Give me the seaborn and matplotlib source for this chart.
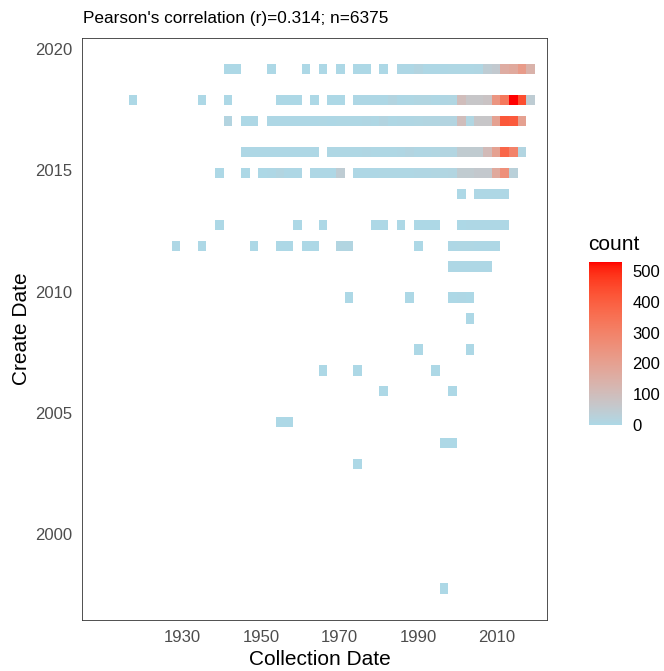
import numpy as np
import matplotlib
matplotlib.use("Agg")
import matplotlib.pyplot as plt
from matplotlib.colors import ListedColormap, to_rgb
import seaborn as sns

# Create-date rows (year) and, for each, the collection-date values and record counts
create_rows = [2019.18, 2017.89, 2017.04, 2015.75, 2014.90, 2014.04, 2012.75,
               2011.90, 2011.04, 2009.76, 2008.90, 2007.62, 2006.76, 2005.90,
               2004.62, 2003.76, 2002.91, 1997.77]

collection_by_row = [
    [1941.6, 1943.8, 1952.6, 1961.4, 1965.8, 1970.2, 1974.6, 1976.8, 1981.1,
     1985.5, 1987.7, 1989.9, 1992.1, 1994.3, 1996.5, 1998.7, 2000.9, 2003.1,
     2005.3, 2007.5, 2009.7, 2011.9, 2014.1, 2016.3, 2018.5],
    [1917.4, 1935.0, 1941.6, 1954.8, 1957.0, 1959.2, 1963.6, 1968.0, 1970.2,
     1974.6, 1976.8, 1978.9, 1981.1, 1983.3, 1985.5, 1987.7, 1989.9, 1992.1,
     1994.3, 1996.5, 1998.7, 2000.9, 2003.1, 2005.3, 2007.5, 2009.7, 2011.9,
     2014.1, 2016.3, 2018.5],
    [1941.6, 1946.0, 1948.2, 1952.6, 1954.8, 1957.0, 1959.2, 1961.4, 1963.6,
     1965.8, 1968.0, 1970.2, 1972.4, 1974.6, 1976.8, 1978.9, 1981.1, 1983.3,
     1985.5, 1987.7, 1989.9, 1992.1, 1994.3, 1996.5, 1998.7, 2000.9, 2003.1,
     2005.3, 2007.5, 2009.7, 2011.9, 2014.1, 2016.3],
    [1946.0, 1948.2, 1950.4, 1952.6, 1954.8, 1957.0, 1959.2, 1961.4, 1963.6,
     1968.0, 1970.2, 1972.4, 1974.6, 1976.8, 1978.9, 1981.1, 1983.3, 1985.5,
     1987.7, 1989.9, 1992.1, 1994.3, 1996.5, 1998.7, 2000.9, 2003.1, 2005.3,
     2007.5, 2009.7, 2011.9, 2014.1, 2016.3],
    [1939.4, 1946.0, 1950.4, 1952.6, 1954.8, 1957.0, 1959.2, 1963.6, 1965.8,
     1968.0, 1970.2, 1974.6, 1976.8, 1978.9, 1981.1, 1983.3, 1985.5, 1987.7,
     1989.9, 1992.1, 1994.3, 1996.5, 1998.7, 2000.9, 2003.1, 2005.3, 2007.5,
     2009.7, 2011.9, 2014.1],
    [2000.9, 2005.3, 2007.5, 2009.7, 2011.9],
    [1939.4, 1959.2, 1965.8, 1978.9, 1981.1, 1985.5, 1989.9, 1992.1, 1994.3,
     2000.9, 2003.1, 2005.3, 2007.5, 2009.7, 2011.9],
    [1928.4, 1935.0, 1948.2, 1954.8, 1957.0, 1961.4, 1963.6, 1970.2, 1972.4,
     1989.9, 1998.7, 2000.9, 2003.1, 2005.3, 2007.5, 2009.7],
    [1998.7, 2000.9, 2003.1, 2005.3, 2007.5],
    [1972.4, 1987.7, 1998.7, 2000.9, 2003.1],
    [2003.1],
    [1989.9, 2003.1],
    [1965.8, 1974.6, 1994.3],
    [1981.1, 1998.7],
    [1954.8, 1957.0],
    [1996.5, 1998.7],
    [1974.6],
    [1996.5],
]

count_by_row = [
    [2, 1, 1, 1, 1, 2, 1, 1, 1, 3, 4, 15, 3, 3, 4, 5, 5, 6, 8, 45, 55,
     160, 170, 220, 140],
    [1, 1, 2, 2, 1, 2, 1, 2, 2, 3, 3, 3, 4, 15, 4, 5, 10, 10, 6, 8, 10,
     100, 70, 70, 80, 240, 330, 530, 440, 45],
    [15, 2, 3, 3, 3, 3, 4, 4, 4, 5, 4, 5, 5, 6, 8, 6, 15, 6, 8, 8,
     10, 12, 12, 15, 15, 100, 10, 70, 70, 200, 420, 410, 200],
    [3, 3, 3, 3, 4, 4, 3, 4, 4, 5, 5, 6, 5, 8, 6, 6, 6, 8, 15, 8,
     8, 10, 12, 12, 50, 50, 50, 110, 200, 380, 300, 12],
    [2, 2, 2, 3, 12, 3, 3, 3, 4, 4, 45, 4, 4, 4, 5, 5, 5, 6, 8, 8, 10,
     10, 12, 50, 50, 60, 60, 170, 260, 30],
    [2, 3, 3, 3, 3],
    [1, 1, 1, 2, 2, 1, 2, 2, 2, 2, 3, 3, 3, 3, 3],
    [3, 1, 2, 2, 2, 2, 2, 12, 12, 2, 4, 5, 5, 4, 4, 3],
    [3, 4, 4, 3, 3],
    [1, 1, 2, 3, 2],
    [1],
    [1, 1],
    [1, 1, 1],
    [1, 1],
    [1, 1],
    [1, 1],
    [1],
    [1],
]

x_ticks = [1930, 1950, 1970, 1990, 2010]
y_ticks = [2000, 2005, 2010, 2015, 2020]
legend_ticks = [0, 100, 200, 300, 400, 500]
title_text = "Pearson's correlation (r)=0.314; n=6375"

# Flatten into one record table
collection_year = np.concatenate([np.asarray(c, float) for c in collection_by_row])
create_year = np.concatenate([np.full(len(c), y) for y, c in zip(create_rows, collection_by_row)])
n_records = np.concatenate([np.asarray(n, float) for n in count_by_row])

# Bin grid used for the 2D histogram
x_binwidth, x_origin, x_nbins = 2.197, 1916.33, 47
y_binwidth, y_origin, y_nbins = 0.4281, 1997.557, 51
x_edges = x_origin + x_binwidth * np.arange(x_nbins + 1)
y_edges = y_origin + y_binwidth * np.arange(y_nbins + 1)

# Light blue -> red gradient interpolated in CIELAB
_M = np.array([[0.4124564, 0.3575761, 0.1804375],
               [0.2126729, 0.7151522, 0.0721750],
               [0.0193339, 0.1191920, 0.9503041]])
_WHITE = np.array([0.95047, 1.0, 1.08883])


def srgb_to_lab(rgb):
    rgb = np.asarray(rgb, float)
    lin = np.where(rgb <= 0.04045, rgb / 12.92, ((rgb + 0.055) / 1.055) ** 2.4)
    t = (lin @ _M.T) / _WHITE
    d = 6 / 29
    f = np.where(t > d ** 3, np.cbrt(t), t / (3 * d ** 2) + 4 / 29)
    return np.stack([116 * f[..., 1] - 16,
                     500 * (f[..., 0] - f[..., 1]),
                     200 * (f[..., 1] - f[..., 2])], -1)


def lab_to_srgb(lab):
    d = 6 / 29
    fy = (lab[..., 0] + 16) / 116
    f = np.stack([fy + lab[..., 1] / 500, fy, fy - lab[..., 2] / 200], -1)
    t = np.where(f > d, f ** 3, 3 * d ** 2 * (f - 4 / 29))
    lin = np.clip((t * _WHITE) @ np.linalg.inv(_M).T, 0, 1)
    rgb = np.where(lin <= 0.0031308, 12.92 * lin, 1.055 * lin ** (1 / 2.4) - 0.055)
    return np.clip(rgb, 0, 1)


lab_lo = srgb_to_lab(to_rgb("lightblue"))
lab_hi = srgb_to_lab(to_rgb("red"))
steps = np.linspace(0, 1, 256)[:, None]
cmap = ListedColormap(lab_to_srgb(lab_lo + (lab_hi - lab_lo) * steps))

sns.set_style("white")
plt.rcParams["font.family"] = ["Liberation Sans", "DejaVu Sans"]

W, H = 664, 671
fig = plt.figure(figsize=(W / 100, H / 100), dpi=100)
pl, pr, pt, pb = 82, 546.5, 37.5, 620
ax = fig.add_axes([pl / W, 1 - pb / H, (pr - pl) / W, (pb - pt) / H])
cl, cr, ct, cb = 588.5, 621.5, 262, 425
cax = fig.add_axes([cl / W, 1 - cb / H, (cr - cl) / W, (cb - ct) / H])

sns.histplot(x=collection_year, y=create_year, weights=n_records,
             bins=[x_edges, y_edges], cmap=cmap, vmin=0,
             cbar=True, cbar_ax=cax, ax=ax,
             edgecolor="face", linewidth=0, antialiased=True)

ax.set_xlim(1904.48, 2022.54)
ax.set_ylim(1996.47, 2020.48)
ax.set_xticks(x_ticks)
ax.set_yticks(y_ticks)
ax.grid(False)
for s in ax.spines.values():
    s.set_color("#333333")
    s.set_linewidth(0.6)
    s.set_visible(True)
ax.tick_params(axis="both", direction="out", length=4, width=0.8,
               color="#333333", labelcolor="#4D4D4D", labelsize=12, pad=3)
ax.set_xlabel("Collection Date", fontsize=15, color="black", labelpad=3)
ax.xaxis.set_label_coords((319.7 - pl) / (pr - pl), -0.052)
ax.set_ylabel("Create Date", fontsize=15, color="black", labelpad=3)

fig.text(83 / W, 1 - 18 / H, title_text, fontsize=12.4, color="black",
         ha="left", va="center")

# Colour bar styled as a ggplot legend
cbar_ax = cax
cbar_ax.set_yticks(legend_ticks)
cbar_ax.set_yticklabels([str(v) for v in legend_ticks])
for s in cbar_ax.spines.values():
    s.set_visible(False)
try:
    cbar_ax.collections[0].colorbar.outline.set_visible(False)
except Exception:
    pass
cbar_ax.tick_params(axis="y", direction="in", length=6, width=0.8,
                    color="white", left=True, right=True,
                    labelleft=False, labelright=True,
                    labelsize=12, labelcolor="black", pad=8)
fig.text(cl / W, 1 - 244 / H, "count", fontsize=15, color="black",
         ha="left", va="center")

fig.savefig("out.png", dpi=100)
